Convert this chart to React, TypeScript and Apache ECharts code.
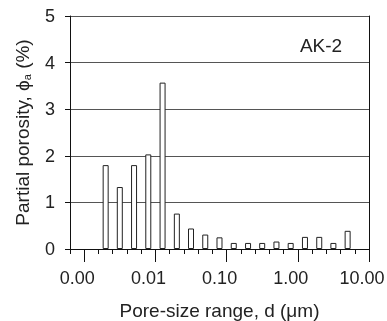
import React, { useEffect, useRef } from "react";
import * as echarts from "echarts";

// Bin centres of the pore-size ranges (µm), log-spaced at 0.2 decade
const binCenters = [
  0.002, 0.00316, 0.00501, 0.00794, 0.0126, 0.02, 0.0316, 0.0501, 0.0794,
  0.126, 0.2, 0.316, 0.501, 0.794, 1.26, 2.0, 3.16, 5.01,
];
// Partial porosity (%)
const porosity = [
  1.8, 1.33, 1.8, 2.03, 3.57, 0.76, 0.44, 0.31, 0.25, 0.13, 0.13, 0.13, 0.16,
  0.13, 0.26, 0.26, 0.13, 0.39,
];
// Decade tick positions (log10 of µm)
const decadeTicks = [-3, -2, -1, 0, 1];
const sampleLabel = "AK-2";

const FONT = "'Liberation Sans', Arial, Helvetica, sans-serif";
const TXT = "#222";

export default function App() {
  const ref = useRef<HTMLDivElement>(null);
  useEffect(() => {
    if (!ref.current) return;
    const chart = echarts.init(ref.current, undefined, { renderer: "svg" });
    const data = binCenters.map((c, i) => [Math.log10(c), porosity[i]]);
    chart.setOption({
      animation: false,
      textStyle: { fontFamily: FONT },
      grid: {
        left: 70,
        right: 18,
        top: 16,
        bottom: 72,
        containLabel: false,
        outerBoundsMode: "none",
      },
      xAxis: [
        {
          type: "value",
          min: -3.2,
          max: 1,
          interval: 0.2,
          axisLine: { show: true, onZero: false, lineStyle: { color: "#111", width: 1 } },
          axisTick: { show: true, length: 5, lineStyle: { color: "#111" } },
          axisLabel: { show: false },
          splitLine: { show: false },
        },
        {
          type: "value",
          position: "bottom",
          min: -3.2,
          max: 1,
          axisLine: { show: false, onZero: false },
          axisTick: {
            show: true,
            length: 13,
            customValues: decadeTicks,
            lineStyle: { color: "#111" },
          },
          axisLabel: {
            customValues: decadeTicks,
            formatter: (v: number) => Math.pow(10, v).toFixed(2),
            margin: 20,
            fontSize: 18,
            color: TXT,
            fontFamily: FONT,
            padding: [0, 14, 0, 0],
          },
          splitLine: { show: false },
          name: "Pore-size range, d (μm)",
          nameLocation: "middle",
          nameGap: 52,
          nameTextStyle: { fontSize: 19, color: TXT, fontFamily: FONT },
        },
      ],
      yAxis: [
        {
          type: "value",
          min: 0,
          max: 5,
          interval: 1,
          axisLine: { show: true, onZero: false, lineStyle: { color: "#111", width: 1 } },
          axisTick: { show: true, length: 5, lineStyle: { color: "#111" } },
          axisLabel: { fontSize: 18, margin: 15, color: TXT, fontFamily: FONT },
          splitLine: { show: true, lineStyle: { color: "#555", width: 1.2 } },
          name: "Partial porosity, ϕ{sub|a} (%)",
          nameLocation: "middle",
          nameRotate: 90,
          nameGap: 38,
          nameTextStyle: {
            fontSize: 19,
            color: TXT,
            fontFamily: FONT,
            rich: {
              sub: {
                fontSize: 11,
                color: TXT,
                fontFamily: FONT,
                verticalAlign: "bottom",
                lineHeight: 12,
              },
            },
          },
        },
        {
          type: "value",
          position: "right",
          min: 0,
          max: 5,
          interval: 1,
          axisLine: { show: true, onZero: false, lineStyle: { color: "#111", width: 1 } },
          axisTick: { show: false },
          axisLabel: { show: false },
          splitLine: { show: false },
        },
      ],
      series: [
        {
          type: "bar",
          xAxisIndex: 0,
          yAxisIndex: 0,
          data,
          barWidth: 6,
          itemStyle: { color: "#fff", borderColor: "#222", borderWidth: 1 },
        },
      ],
      graphic: [
        {
          type: "text",
          x: 321,
          y: 45,
          style: {
            text: sampleLabel,
            fontSize: 19,
            fontFamily: FONT,
            fill: TXT,
            textAlign: "center",
            textVerticalAlign: "middle",
          },
        },
      ],
    });
    return () => chart.dispose();
  }, []);
  return (
    <div
      ref={ref}
      style={{ position: "fixed", left: 0, top: 0, width: 387, height: 321 }}
    />
  );
}
